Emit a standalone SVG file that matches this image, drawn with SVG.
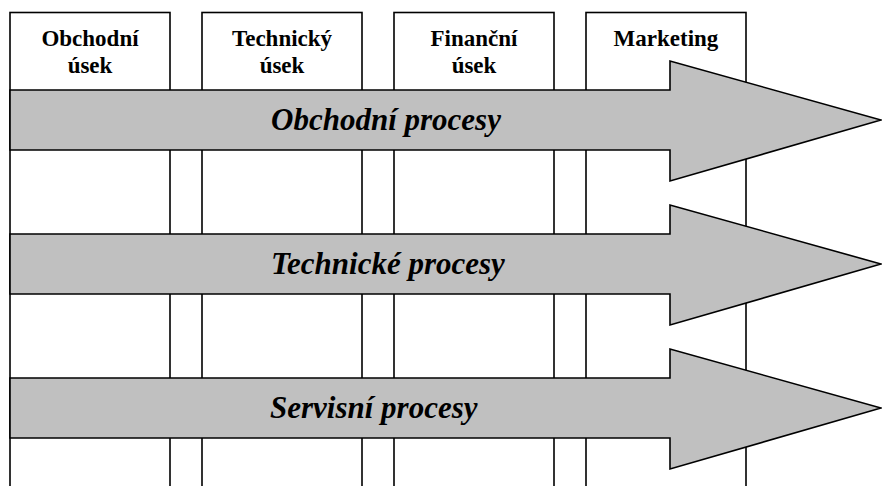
<svg xmlns="http://www.w3.org/2000/svg" width="882" height="486" viewBox="0 0 882 486">
  <style>
    .col { fill: #ffffff; stroke: #000000; stroke-width: 1.6; }
    .head { font-family: "Liberation Serif", "Times New Roman", serif; font-weight: bold; font-size: 23px; fill: #000000; text-anchor: middle; }
    .proc { fill: #c0c0c0; stroke: #000000; stroke-width: 1.6; stroke-linejoin: miter; }
    .label { font-family: "Liberation Serif", "Times New Roman", serif; font-weight: bold; font-style: italic; font-size: 31px; fill: #000000; }
  </style>
  <rect width="882" height="486" fill="#ffffff"/>

  <!-- departments: tall columns with a heading -->
  <g id="col-obchodni">
    <rect class="col" x="10" y="12.5" width="160" height="490"/>
    <text class="head" x="90" y="46">Obchodní</text>
    <text class="head" x="90" y="72.5">úsek</text>
  </g>
  <g id="col-technicky">
    <rect class="col" x="202" y="12.5" width="160" height="490"/>
    <text class="head" x="282" y="46">Technický</text>
    <text class="head" x="282" y="72.5">úsek</text>
  </g>
  <g id="col-financni">
    <rect class="col" x="394" y="12.5" width="160" height="490"/>
    <text class="head" x="474" y="46">Finanční</text>
    <text class="head" x="474" y="72.5">úsek</text>
  </g>
  <g id="col-marketing">
    <rect class="col" x="586" y="12.5" width="160" height="490"/>
    <text class="head" x="666" y="46">Marketing</text>
  </g>

  <!-- processes running across all departments -->
  <g id="proc-obchodni">
    <polygon class="proc" points="10,90 670,90 670,61 881,120 670,181 670,150 10,150"/>
    <text class="label" x="271" y="130">Obchodní procesy</text>
  </g>
  <g id="proc-technicke">
    <polygon class="proc" points="10,234 670,234 670,205 881,264 670,325 670,294 10,294"/>
    <text class="label" x="271" y="274">Technické procesy</text>
  </g>
  <g id="proc-servisni">
    <polygon class="proc" points="10,378 670,378 670,349 881,408 670,469 670,438 10,438"/>
    <text class="label" x="270" y="418">Servisní procesy</text>
  </g>
</svg>
